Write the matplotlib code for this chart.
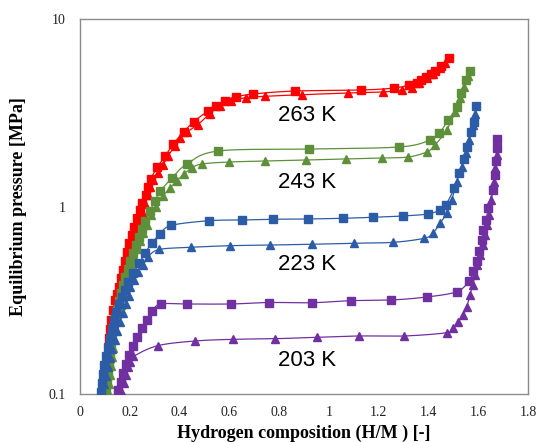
import numpy as np
import matplotlib
matplotlib.use("Agg")
import matplotlib.pyplot as plt
from matplotlib.ticker import FixedLocator, FixedFormatter, NullLocator

# ---------------- data (H/M, MPa) ----------------
x263_abs = [0.096, 0.100, 0.104, 0.108, 0.112, 0.115, 0.118, 0.120, 0.123, 0.131, 0.141, 0.150, 0.157,
            0.164, 0.172, 0.180, 0.188, 0.198, 0.208, 0.218, 0.230, 0.241, 0.250, 0.265, 0.273, 0.284,
            0.311, 0.342, 0.375, 0.416, 0.458, 0.514, 0.546, 0.583, 0.627, 0.695, 0.864, 1.129, 1.262,
            1.322, 1.354, 1.370, 1.390, 1.410, 1.426, 1.450, 1.482]
p263_abs = [0.103, 0.114, 0.128, 0.143, 0.160, 0.178, 0.199, 0.222, 0.248, 0.281, 0.317, 0.342, 0.372,
            0.416, 0.458, 0.512, 0.572, 0.639, 0.705, 0.778, 0.869, 0.958, 1.044, 1.152, 1.271, 1.402,
            1.624, 1.859, 2.154, 2.496, 2.84, 3.231, 3.449, 3.653, 3.837, 3.981, 4.13, 4.18, 4.285,
            4.446, 4.557, 4.727, 4.905, 5.089, 5.28, 5.614, 6.194]
x263_des = [0.104, 0.108, 0.1125, 0.1165, 0.1205, 0.1245, 0.1266, 0.1286, 0.1326, 0.1406, 0.1487, 0.1567,
            0.1647, 0.1728, 0.1808, 0.1888, 0.1989, 0.2089, 0.219, 0.229, 0.2391, 0.2491, 0.2611, 0.2732,
            0.2812, 0.2933, 0.3134, 0.3335, 0.3536, 0.3817, 0.4018, 0.4299, 0.4741, 0.5223, 0.5625, 0.6067,
            0.6669, 0.7433, 0.8919, 1.0767, 1.2173, 1.2937, 1.3339, 1.362, 1.3941, 1.4183, 1.4464, 1.4665]
p263_des = [0.1025, 0.1145, 0.128, 0.143, 0.160, 0.178, 0.199, 0.222, 0.248, 0.281, 0.317, 0.350,
            0.386, 0.426, 0.470, 0.518, 0.572, 0.631, 0.696, 0.768, 0.847, 0.935, 1.031, 1.152,
            1.271, 1.385, 1.509, 1.664, 1.859, 2.102, 2.319, 2.496, 2.737, 3.133, 3.436, 3.653,
            3.804, 3.870, 3.947, 4.03, 4.08, 4.18, 4.285, 4.539, 4.862, 5.07, 5.458, 5.825]

x243_abs = [0.1045, 0.1085, 0.1125, 0.1165, 0.1205, 0.1245, 0.1286, 0.1346, 0.1406, 0.1487, 0.1567, 0.1647,
            0.1728, 0.1828, 0.1928, 0.2029, 0.2129, 0.225, 0.237, 0.2491, 0.2611, 0.2812, 0.3013, 0.3234,
            0.3696, 0.4299, 0.5556, 0.9213, 1.2828, 1.4062, 1.4436, 1.4797, 1.5134, 1.5307, 1.5508, 1.5689]
p243_abs = [0.1025, 0.1159, 0.1294, 0.1445, 0.1614, 0.1803, 0.2014, 0.2249, 0.2512, 0.281, 0.3133, 0.3457,
            0.3814, 0.4207, 0.464, 0.5122, 0.5649, 0.623, 0.6876, 0.7586, 0.8369, 0.9462, 1.07, 1.21,
            1.419, 1.685, 1.977, 2.026, 2.077, 2.262, 2.466, 2.893, 3.393, 4.03, 4.727, 5.28]
x243_des = [0.1125, 0.1165, 0.1205, 0.1245, 0.1286, 0.1326, 0.1366, 0.1426, 0.1487, 0.1567, 0.1647, 0.1728,
            0.1808, 0.1888, 0.1969, 0.2069, 0.217, 0.229, 0.241, 0.2531, 0.268, 0.2853, 0.3053, 0.3335,
            0.3616, 0.3885, 0.4178, 0.4488, 0.489, 0.5986, 0.7421, 0.9068, 1.0675, 1.2146, 1.319, 1.393,
            1.4263, 1.4733, 1.5066, 1.5267, 1.544, 1.56]
p243_des = [0.1025, 0.113, 0.1262, 0.141, 0.1575, 0.1759, 0.1965, 0.2194, 0.2451, 0.2704, 0.2982, 0.3291,
            0.3631, 0.4006, 0.4418, 0.4875, 0.5378, 0.5931, 0.6546, 0.7222, 0.7968, 0.9007, 0.9938, 1.138,
            1.255, 1.368, 1.491, 1.604, 1.685, 1.727, 1.748, 1.77, 1.792, 1.814, 1.837, 1.953,
            2.128, 2.559, 3.192, 3.79, 4.338, 4.966]

x223_abs = [0.0844, 0.0884, 0.0924, 0.0984, 0.1045, 0.1125, 0.1205, 0.1286, 0.1366, 0.1466, 0.1567, 0.1675,
            0.1808, 0.194, 0.2141, 0.2382, 0.2611, 0.2881, 0.3214, 0.3656, 0.5183, 0.6497, 0.7766, 0.9148,
            1.0555, 1.1784, 1.2965, 1.397, 1.4464, 1.4693, 1.5038, 1.5239, 1.544, 1.5561, 1.5697, 1.5842, 1.591]
p223_abs = [0.1025, 0.1145, 0.128, 0.143, 0.160, 0.178, 0.199, 0.222, 0.248, 0.2737, 0.302, 0.330,
            0.359, 0.397, 0.440, 0.498, 0.563, 0.637, 0.711, 0.792, 0.840, 0.847, 0.855, 0.858,
            0.865, 0.876, 0.890, 0.912, 0.958, 1.019, 1.250, 1.503, 1.785, 2.084, 2.506, 2.833, 3.436]
x223_des = [0.0904, 0.0964, 0.1045, 0.1125, 0.1205, 0.1306, 0.1406, 0.1507, 0.1607, 0.1728, 0.1868, 0.1969,
            0.2029, 0.217, 0.2342, 0.2543, 0.2744, 0.3186, 0.446, 0.6039, 0.7634, 0.9333, 1.1008, 1.2587,
            1.3833, 1.417, 1.4464, 1.4733, 1.4934, 1.5134, 1.5335, 1.5508, 1.5641, 1.5802, 1.587]
p223_des = [0.1025, 0.113, 0.1247, 0.1393, 0.1556, 0.1738, 0.1941, 0.2168, 0.2421, 0.2704, 0.302, 0.333,
            0.371, 0.406, 0.449, 0.488, 0.540, 0.590, 0.606, 0.618, 0.623, 0.629, 0.637, 0.644,
            0.677, 0.719, 0.814, 0.920, 1.083, 1.356, 1.630, 1.921, 2.262, 2.720, 3.10]

x203_abs = [0.1539, 0.1635, 0.174, 0.1848, 0.1981, 0.2117, 0.2302, 0.2479, 0.268, 0.2893, 0.3254, 0.4319,
            0.6055, 0.7593, 0.9333, 1.0876, 1.2495, 1.3929, 1.5134, 1.5641, 1.5777, 1.5938, 1.6043, 1.6139,
            1.6203, 1.6312, 1.6404, 1.6581, 1.6661, 1.6714, 1.6742, 1.6766]
p203_abs = [0.1050, 0.1165, 0.1302, 0.1445, 0.1614, 0.1803, 0.2021, 0.2241, 0.248, 0.2771, 0.302, 0.302,
            0.302, 0.3076, 0.3068, 0.3145, 0.3172, 0.3291, 0.3512, 0.4021, 0.4545, 0.5139, 0.581, 0.6627,
            0.7494, 0.847, 0.978, 1.225, 1.472, 1.755, 2.043, 2.291]
x203_des = [0.1667, 0.1768, 0.186, 0.1928, 0.2009, 0.2141, 0.3122, 0.462, 0.6159, 0.7834, 0.951, 1.1222,
            1.3029, 1.4733, 1.4974, 1.5199, 1.54, 1.5537, 1.5669, 1.5777, 1.587, 1.5962, 1.6071, 1.6179,
            1.6272, 1.6364, 1.6444, 1.6533, 1.6621, 1.6686, 1.6742, 1.6766]
p203_des = [0.1038, 0.1145, 0.1262, 0.1393, 0.149, 0.1585, 0.181, 0.1917, 0.1957, 0.1972, 0.2006, 0.2039,
            0.2039, 0.2123, 0.2241, 0.243, 0.2638, 0.2921, 0.3373, 0.3814, 0.4311, 0.4875, 0.5512, 0.623,
            0.7047, 0.7968, 0.9007, 1.083, 1.351, 1.604, 1.882, 2.154]

temp_labels = ["263 K", "243 K", "223 K", "203 K"]
colors = ["#FF0000", "#5E8F3A", "#2D5CA6", "#7030A0"]

x_ticks = [0, 0.2, 0.4, 0.6, 0.8, 1.0, 1.2, 1.4, 1.6, 1.8]
x_tick_labels = ["0", "0.2", "0.4", "0.6", "0.8", "1", "1.2", "1.4", "1.6", "1.8"]
y_ticks = [0.1, 1, 10]
y_tick_labels = ["0.1", "1", "10"]


def smooth(x, p, n=12):
    """Catmull-Rom smoothing in (x, log10 p) space, passing through every point."""
    x = np.asarray(x, float)
    y = np.log10(np.asarray(p, float))
    P = np.column_stack([x, y])
    P = np.vstack([P[0], P, P[-1]])
    out = []
    t = np.linspace(0, 1, n, endpoint=False)[:, None]
    for i in range(1, len(P) - 2):
        p0, p1, p2, p3 = P[i - 1], P[i], P[i + 1], P[i + 2]
        seg = 0.5 * ((2 * p1) + (-p0 + p2) * t + (2 * p0 - 5 * p1 + 4 * p2 - p3) * t ** 2
                     + (-p0 + 3 * p1 - 3 * p2 + p3) * t ** 3)
        out.append(seg)
    out.append(P[-2][None, :])
    out = np.vstack(out)
    return out[:, 0], 10 ** out[:, 1]


fig = plt.figure(figsize=(5.39, 4.42), dpi=100)
ax = fig.add_axes([0.1484, 0.1086, 0.8312, 0.8484])

series = [
    (x263_abs, p263_abs, x263_des, p263_des),
    (x243_abs, p243_abs, x243_des, p243_des),
    (x223_abs, p223_abs, x223_des, p223_des),
    (x203_abs, p203_abs, x203_des, p203_des),
]

for (xa, pa, xd, pd), c in zip(series, colors):
    for xs, ps, m, ms in ((xa, pa, "s", 5.2), (xd, pd, "^", 5.6)):
        sx, sy = smooth(xs, ps)
        ax.plot(sx, sy, color=c, lw=0.9, zorder=2)
        ax.plot(xs, ps, linestyle="none", marker=m, ms=ms, color=c, mec=c, zorder=3)

ax.set_yscale("log")
ax.set_xlim(0, 1.8)
ax.set_ylim(0.1, 10)

ax.xaxis.set_major_locator(FixedLocator(x_ticks))
ax.xaxis.set_major_formatter(FixedFormatter(x_tick_labels))
ax.yaxis.set_major_locator(FixedLocator(y_ticks))
ax.yaxis.set_major_formatter(FixedFormatter(y_tick_labels))
ax.yaxis.set_minor_locator(NullLocator())
ax.tick_params(axis="both", length=0, labelsize=10, labelcolor="#222222")
ax.tick_params(axis="x", pad=9)
ax.tick_params(axis="y", pad=10)
for lab in ax.get_xticklabels() + ax.get_yticklabels():
    lab.set_family("Liberation Serif")

for s in ax.spines.values():
    s.set_color("#8C8C8C")
    s.set_linewidth(1.0)

lab_pos = [(0.912, 3.04), (0.912, 1.335), (0.912, 0.4935), (0.912, 0.150)]
for t, (lx, ly) in zip(temp_labels, lab_pos):
    ax.text(lx, ly, t, ha="center", va="center", fontsize=16, family="Liberation Sans", color="black")

ax.set_xlabel("Hydrogen composition (H/M ) [-]", family="Liberation Serif", fontweight="bold",
              fontsize=13, labelpad=4)
ax.set_ylabel("Equilibrium pressure [MPa]", family="Liberation Serif", fontweight="bold",
              fontsize=13, labelpad=16)

fig.savefig("out.png", dpi=100)
